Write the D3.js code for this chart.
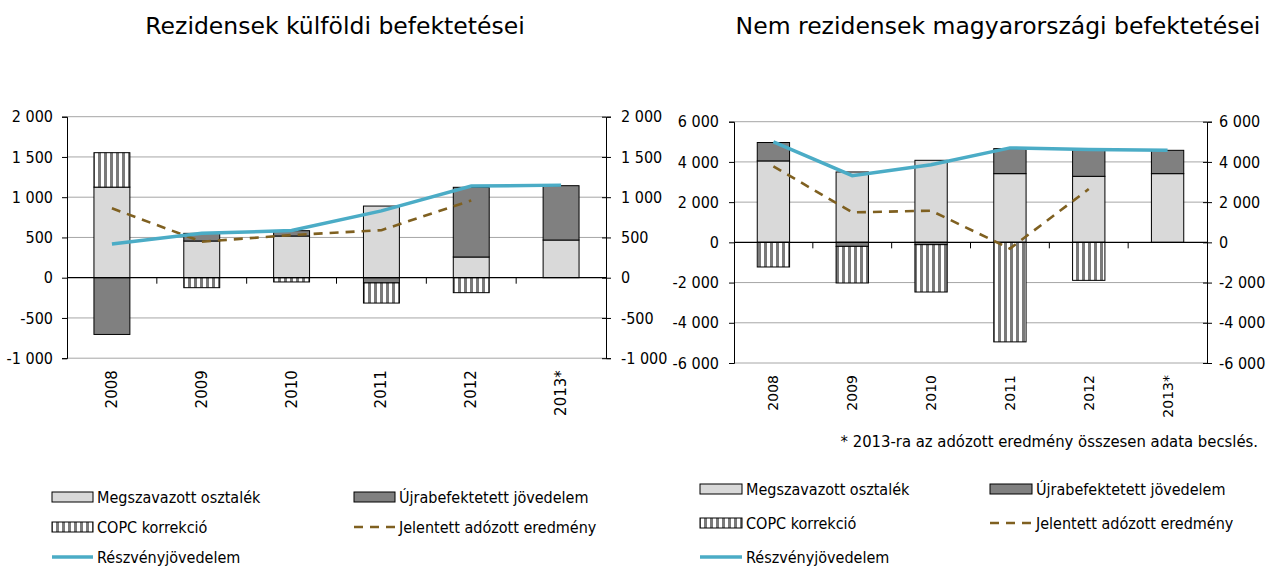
<!DOCTYPE html>
<html><head><meta charset="utf-8">
<script src="https://cdn.jsdelivr.net/npm/d3@7"></script>
<style>
body{margin:0;background:#fff;}
svg{display:block;}
.t{font-family:"DejaVu Sans",sans-serif;font-size:23.5px;fill:#000;}
.tick text{font-family:"Liberation Sans Narrow","DejaVu Sans Condensed",sans-serif;font-size:16px;fill:#000;}
.yr{font-family:"DejaVu Sans",sans-serif;font-size:15px;fill:#000;}
.lg{font-family:"DejaVu Sans Condensed",sans-serif;font-size:16px;fill:#000;}
.fn{font-family:"DejaVu Sans Condensed",sans-serif;font-size:16.5px;fill:#000;}
</style></head>
<body>
<svg id="c" width="1269" height="568"></svg>
<script>
// ---- data ----
const categories = ["2008","2009","2010","2011","2012","2013*"];
const seriesNames = ["Megszavazott osztalék","Újrabefektetett jövedelem","COPC korrekció","Jelentett adózott eredmény","Részvényjövedelem"];

// Rezidensek külföldi befektetései
const resDividend   = [1125, 456, 518, 890, 257, 468];
const resReinvested = [-705, 95, 66, -65, 866, 675];
const resCopc       = [428, -124, -53, -250, -186, 0];
const resReported   = [862, 447, 530, 590, 960, null];
const resEquity     = [418, 551, 586, 830, 1139, 1150];
const resTicks      = [-1000, -500, 0, 500, 1000, 1500, 2000];

// Nem rezidensek magyarországi befektetései
const nonDividend   = [4050, 3500, 4080, 3417, 3284, 3417];
const nonReinvested = [915, -200, -115, 1243, 1330, 1160];
const nonCopc       = [-1225, -1820, -2355, -4950, -1890, 0];
const nonReported   = [3780, 1490, 1575, -313, 2650, null];
const nonEquity     = [4995, 3317, 3860, 4697, 4612, 4580];
const nonTicks      = [-6000, -4000, -2000, 0, 2000, 4000, 6000];

const titles = ["Rezidensek külföldi befektetései","Nem rezidensek magyarországi befektetései"];
const footnote = "* 2013-ra az adózott eredmény összesen adata becslés.";

// ---- styles ----
const C_LIGHT="#d9d9d9", C_DARK="#808080", C_TEAL="#4bacc6", C_BROWN="#7f6020";
const loc = d3.formatLocale({decimal:",",thousands:" ",grouping:[3],currency:["",""],minus:"-"});
const fmt = loc.format(",");

const svg = d3.select("#c");
const defs = svg.append("defs");
const pat = defs.append("pattern").attr("id","stripes").attr("patternUnits","userSpaceOnUse")
  .attr("width",6).attr("height",6);
pat.append("rect").attr("width",6).attr("height",6).attr("fill","#fff");
pat.append("rect").attr("x",2).attr("width",3).attr("height",6).attr("fill","#7a7a7a");

function drawChart(cfg){
  const g = svg.append("g");
  const x = d3.scaleBand().domain(categories).range([cfg.x0,cfg.x1]).paddingInner(0).paddingOuter(0);
  const y = d3.scaleLinear().domain([cfg.ticks[0], cfg.ticks[cfg.ticks.length-1]]).range([cfg.yBot,cfg.yTop]);
  const bw = x.bandwidth()*cfg.barFrac;
  const cx = c => x(c)+x.bandwidth()/2;

  // gridlines
  g.append("g").selectAll("line").data(cfg.ticks.filter(t=>t!==0)).join("line")
    .attr("x1",cfg.x0).attr("x2",cfg.x1).attr("y1",d=>y(d)).attr("y2",d=>y(d))
    .attr("stroke","#a6a6a6").attr("stroke-width",1);

  // stacked bars
  const series = [
    {vals:cfg.dividend, fill:C_LIGHT},
    {vals:cfg.reinvested, fill:C_DARK},
    {vals:cfg.copc, fill:"url(#stripes)"}
  ];
  const rects=[];
  categories.forEach((c,i)=>{
    let pos=0, neg=0;
    series.forEach(s=>{
      const v=s.vals[i];
      if(!v) return;
      let a,b;
      if(v>0){a=pos;b=pos+v;pos=b;} else {a=neg+v;b=neg;neg=a;}
      rects.push({c,a,b,fill:s.fill});
    });
  });
  g.append("g").selectAll("rect").data(rects).join("rect")
    .attr("x",d=>cx(d.c)-bw/2).attr("width",bw)
    .attr("y",d=>y(d.b)).attr("height",d=>y(d.a)-y(d.b))
    .attr("fill",d=>d.fill).attr("stroke","#000").attr("stroke-width",1);

  // zero line
  g.append("line").attr("x1",cfg.x0).attr("x2",cfg.x1).attr("y1",y(0)).attr("y2",y(0))
    .attr("stroke","#000").attr("stroke-width",1.2);
  // category ticks
  g.append("g").selectAll("line").data(categories.slice(1)).join("line")
    .attr("x1",d=>x(d)).attr("x2",d=>x(d)).attr("y1",y(0)).attr("y2",y(0)+6)
    .attr("stroke","#000");

  // axes
  const la = g.append("g").attr("transform",`translate(${cfg.x0},0)`)
    .call(d3.axisLeft(y).tickValues(cfg.ticks).tickFormat(fmt).tickSize(5).tickPadding(cfg.padL));
  const ra = g.append("g").attr("transform",`translate(${cfg.x1},0)`)
    .call(d3.axisRight(y).tickValues(cfg.ticks).tickFormat(fmt).tickSize(5).tickPadding(cfg.padR));
  ra.selectAll(".tick line").attr("x1",-4);
  [la,ra].forEach(a=>{a.select(".domain").attr("stroke","#000"); a.selectAll(".tick line").attr("stroke","#000");});

  // year labels
  g.append("g").selectAll("text").data(categories).join("text").attr("class","yr")
    .attr("transform",d=>`translate(${cx(d)+5},${cfg.yBot+12}) rotate(-90)`)
    .attr("text-anchor","end").style("font-size",cfg.yrSize+"px").text(d=>d);

  // lines
  const line = d3.line().defined(d=>d.v!==null).x(d=>cx(d.c)).y(d=>y(d.v));
  g.append("path").datum(categories.map((c,i)=>({c,v:cfg.reported[i]})))
    .attr("d",line).attr("fill","none").attr("stroke",C_BROWN).attr("stroke-width",2.6)
    .attr("stroke-dasharray","9,7");
  g.append("path").datum(categories.map((c,i)=>({c,v:cfg.equity[i]})))
    .attr("d",line).attr("fill","none").attr("stroke",C_TEAL).attr("stroke-width",3.5);

  // title
  svg.append("text").attr("class","t").attr("x",cfg.titleX).attr("y",34)
    .attr("text-anchor","middle").text(cfg.title);

  // legend
  const L = cfg.legend;
  const items = [
    {name:seriesNames[0], kind:"rect", fill:C_LIGHT, col:0,row:0},
    {name:seriesNames[1], kind:"rect", fill:C_DARK, col:1,row:0},
    {name:seriesNames[2], kind:"rect", fill:"url(#stripes)", col:0,row:1},
    {name:seriesNames[3], kind:"dash", col:1,row:1},
    {name:seriesNames[4], kind:"line", col:0,row:2}
  ];
  const lg = svg.append("g");
  items.forEach(it=>{
    const sx = L.cols[it.col], sy = L.rows[it.row];
    if(it.kind==="rect"){
      lg.append("rect").attr("x",sx).attr("y",sy-5).attr("width",L.sw).attr("height",10)
        .attr("fill",it.fill).attr("stroke","#000").attr("stroke-width",1);
    } else if(it.kind==="dash"){
      lg.append("line").attr("x1",sx).attr("x2",sx+L.sw).attr("y1",sy).attr("y2",sy)
        .attr("stroke",C_BROWN).attr("stroke-width",2.6).attr("stroke-dasharray","9,7");
    } else {
      lg.append("line").attr("x1",sx).attr("x2",sx+L.sw).attr("y1",sy).attr("y2",sy)
        .attr("stroke",C_TEAL).attr("stroke-width",3.5);
    }
    lg.append("text").attr("class","lg").attr("x",sx+L.sw+4).attr("y",sy+6).text(it.name);
  });
}

drawChart({x0:67,x1:606,yTop:116.7,yBot:358.2,ticks:resTicks,barFrac:0.4,yrSize:15,padL:9,padR:10,
  dividend:resDividend,reinvested:resReinvested,copc:resCopc,reported:resReported,equity:resEquity,
  title:titles[0],titleX:335,
  legend:{cols:[52,354],rows:[497,527,557],sw:41}});
drawChart({x0:734,x1:1207,yTop:121.7,yBot:363,ticks:nonTicks,barFrac:0.41,yrSize:14,padL:10,padR:7,
  dividend:nonDividend,reinvested:nonReinvested,copc:nonCopc,reported:nonReported,equity:nonEquity,
  title:titles[1],titleX:998,
  legend:{cols:[700,990],rows:[489,523,557],sw:42}});

svg.append("text").attr("class","fn").attr("x",1258).attr("y",447).attr("text-anchor","end").text(footnote);
</script>
</body></html>
